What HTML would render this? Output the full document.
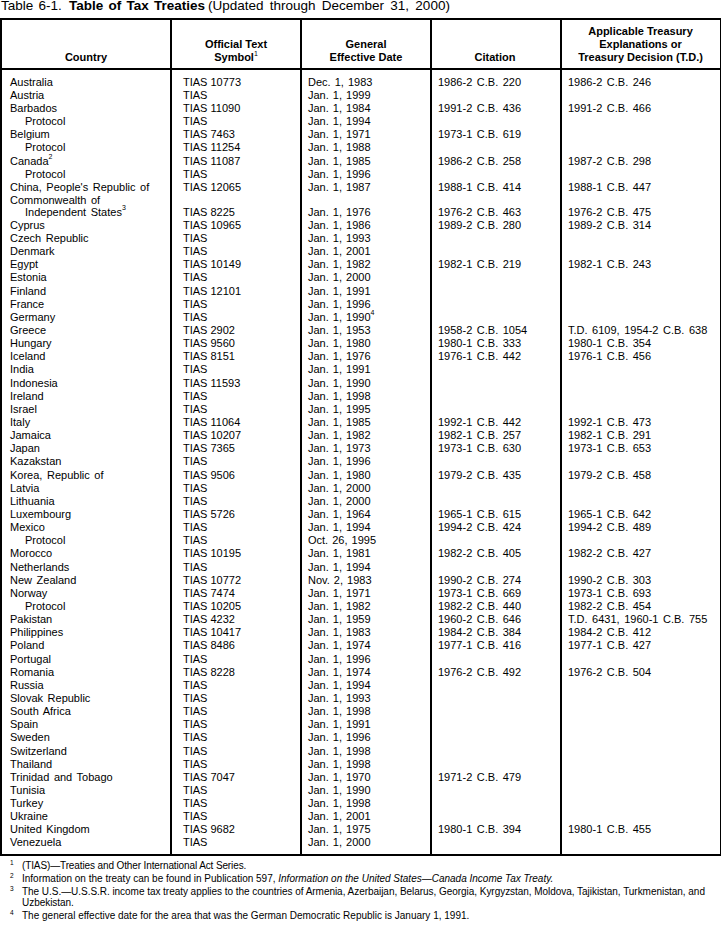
<!DOCTYPE html>
<html><head><meta charset="utf-8">
<style>
html,body{margin:0;padding:0;background:#fff;}
body{width:721px;height:939px;position:relative;overflow:hidden;font-family:"Liberation Sans",sans-serif;color:#000;}
.t{position:absolute;font-size:11px;line-height:13px;white-space:nowrap;word-spacing:1.5px;}
.t sup{font-size:7px;vertical-align:0;position:relative;top:-6px;margin-left:0px;word-spacing:0}
.h{position:absolute;font-size:11px;line-height:13px;font-weight:bold;text-align:center;white-space:nowrap;}
.ln{position:absolute;background:#000;}
.c2{word-spacing:0}
.c3{word-spacing:1px}
.title{position:absolute;top:-1px;font-size:13.5px;line-height:14px;white-space:nowrap;word-spacing:1.5px}
.fn{position:absolute;font-size:10px;line-height:11px;white-space:nowrap;}
.fn sup{font-size:6px;}
.fs{position:absolute;font-size:6.5px;line-height:8px;}
</style></head><body>
<div class="title" style="left:1px">Table 6-1.</div><div class="title" style="left:69px;font-weight:bold">Table of Tax Treaties</div><div class="title" style="left:208px;word-spacing:2.5px">(Updated through December 31, 2000)</div>
<!-- borders -->
<div class="ln" style="left:0;top:18px;width:721px;height:2px"></div>
<div class="ln" style="left:0;top:68px;width:721px;height:2px"></div>
<div class="ln" style="left:0;top:854px;width:721px;height:2px"></div>
<div class="ln" style="left:0;top:18px;width:2px;height:838px"></div>
<div class="ln" style="left:170px;top:18px;width:2px;height:838px"></div>
<div class="ln" style="left:300px;top:18px;width:2px;height:838px"></div>
<div class="ln" style="left:430px;top:18px;width:2px;height:838px"></div>
<div class="ln" style="left:560px;top:18px;width:2px;height:838px"></div>
<div class="ln" style="left:720px;top:18px;width:2px;height:838px"></div>
<!-- header -->
<div class="h" style="left:2px;width:168px;top:51px">Country</div>
<div class="h" style="left:172px;width:128px;top:38px">Official Text<br>Symbol<sup style="font-size:7px;vertical-align:0;position:relative;top:-5px;font-weight:normal">1</sup></div>
<div class="h" style="left:302px;width:128px;top:38px">General<br>Effective Date</div>
<div class="h" style="left:431px;width:128px;top:51px">Citation</div>
<div class="h" style="left:562px;width:157px;top:25px">Applicable Treasury<br>Explanations or<br>Treasury Decision (T.D.)</div>
<div class="t" style="top:76px;left:10px">Australia</div>
<div class="t c2" style="top:76px;left:183px">TIAS 10773</div>
<div class="t c3" style="top:76px;left:308px">Dec. 1, 1983</div>
<div class="t c4" style="top:76px;left:438px">1986-2 C.B. 220</div>
<div class="t c5" style="top:76px;left:568px">1986-2 C.B. 246</div>
<div class="t" style="top:89px;left:10px">Austria</div>
<div class="t c2" style="top:89px;left:183px">TIAS</div>
<div class="t c3" style="top:89px;left:308px">Jan. 1, 1999</div>
<div class="t" style="top:102px;left:10px">Barbados</div>
<div class="t c2" style="top:102px;left:183px">TIAS 11090</div>
<div class="t c3" style="top:102px;left:308px">Jan. 1, 1984</div>
<div class="t c4" style="top:102px;left:438px">1991-2 C.B. 436</div>
<div class="t c5" style="top:102px;left:568px">1991-2 C.B. 466</div>
<div class="t" style="top:115px;left:25px">Protocol</div>
<div class="t c2" style="top:115px;left:183px">TIAS</div>
<div class="t c3" style="top:115px;left:308px">Jan. 1, 1994</div>
<div class="t" style="top:128px;left:10px">Belgium</div>
<div class="t c2" style="top:128px;left:183px">TIAS 7463</div>
<div class="t c3" style="top:128px;left:308px">Jan. 1, 1971</div>
<div class="t c4" style="top:128px;left:438px">1973-1 C.B. 619</div>
<div class="t" style="top:141px;left:25px">Protocol</div>
<div class="t c2" style="top:141px;left:183px">TIAS 11254</div>
<div class="t c3" style="top:141px;left:308px">Jan. 1, 1988</div>
<div class="t" style="top:155px;left:10px">Canada<sup>2</sup></div>
<div class="t c2" style="top:155px;left:183px">TIAS 11087</div>
<div class="t c3" style="top:155px;left:308px">Jan. 1, 1985</div>
<div class="t c4" style="top:155px;left:438px">1986-2 C.B. 258</div>
<div class="t c5" style="top:155px;left:568px">1987-2 C.B. 298</div>
<div class="t" style="top:168px;left:25px">Protocol</div>
<div class="t c2" style="top:168px;left:183px">TIAS</div>
<div class="t c3" style="top:168px;left:308px">Jan. 1, 1996</div>
<div class="t" style="top:181px;left:10px">China, People's Republic of</div>
<div class="t c2" style="top:181px;left:183px">TIAS 12065</div>
<div class="t c3" style="top:181px;left:308px">Jan. 1, 1987</div>
<div class="t c4" style="top:181px;left:438px">1988-1 C.B. 414</div>
<div class="t c5" style="top:181px;left:568px">1988-1 C.B. 447</div>
<div class="t" style="top:194px;left:10px">Commonwealth of</div>
<div class="t" style="top:206px;left:25px">Independent States<sup>3</sup></div>
<div class="t c2" style="top:206px;left:183px">TIAS 8225</div>
<div class="t c3" style="top:206px;left:308px">Jan. 1, 1976</div>
<div class="t c4" style="top:206px;left:438px">1976-2 C.B. 463</div>
<div class="t c5" style="top:206px;left:568px">1976-2 C.B. 475</div>
<div class="t" style="top:219px;left:10px">Cyprus</div>
<div class="t c2" style="top:219px;left:183px">TIAS 10965</div>
<div class="t c3" style="top:219px;left:308px">Jan. 1, 1986</div>
<div class="t c4" style="top:219px;left:438px">1989-2 C.B. 280</div>
<div class="t c5" style="top:219px;left:568px">1989-2 C.B. 314</div>
<div class="t" style="top:232px;left:10px">Czech Republic</div>
<div class="t c2" style="top:232px;left:183px">TIAS</div>
<div class="t c3" style="top:232px;left:308px">Jan. 1, 1993</div>
<div class="t" style="top:245px;left:10px">Denmark</div>
<div class="t c2" style="top:245px;left:183px">TIAS</div>
<div class="t c3" style="top:245px;left:308px">Jan. 1, 2001</div>
<div class="t" style="top:258px;left:10px">Egypt</div>
<div class="t c2" style="top:258px;left:183px">TIAS 10149</div>
<div class="t c3" style="top:258px;left:308px">Jan. 1, 1982</div>
<div class="t c4" style="top:258px;left:438px">1982-1 C.B. 219</div>
<div class="t c5" style="top:258px;left:568px">1982-1 C.B. 243</div>
<div class="t" style="top:271px;left:10px">Estonia</div>
<div class="t c2" style="top:271px;left:183px">TIAS</div>
<div class="t c3" style="top:271px;left:308px">Jan. 1, 2000</div>
<div class="t" style="top:285px;left:10px">Finland</div>
<div class="t c2" style="top:285px;left:183px">TIAS 12101</div>
<div class="t c3" style="top:285px;left:308px">Jan. 1, 1991</div>
<div class="t" style="top:298px;left:10px">France</div>
<div class="t c2" style="top:298px;left:183px">TIAS</div>
<div class="t c3" style="top:298px;left:308px">Jan. 1, 1996</div>
<div class="t" style="top:311px;left:10px">Germany</div>
<div class="t c2" style="top:311px;left:183px">TIAS</div>
<div class="t c3" style="top:311px;left:308px">Jan. 1, 1990<sup>4</sup></div>
<div class="t" style="top:324px;left:10px">Greece</div>
<div class="t c2" style="top:324px;left:183px">TIAS 2902</div>
<div class="t c3" style="top:324px;left:308px">Jan. 1, 1953</div>
<div class="t c4" style="top:324px;left:438px">1958-2 C.B. 1054</div>
<div class="t c5" style="top:324px;left:568px">T.D. 6109, 1954-2 C.B. 638</div>
<div class="t" style="top:337px;left:10px">Hungary</div>
<div class="t c2" style="top:337px;left:183px">TIAS 9560</div>
<div class="t c3" style="top:337px;left:308px">Jan. 1, 1980</div>
<div class="t c4" style="top:337px;left:438px">1980-1 C.B. 333</div>
<div class="t c5" style="top:337px;left:568px">1980-1 C.B. 354</div>
<div class="t" style="top:350px;left:10px">Iceland</div>
<div class="t c2" style="top:350px;left:183px">TIAS 8151</div>
<div class="t c3" style="top:350px;left:308px">Jan. 1, 1976</div>
<div class="t c4" style="top:350px;left:438px">1976-1 C.B. 442</div>
<div class="t c5" style="top:350px;left:568px">1976-1 C.B. 456</div>
<div class="t" style="top:363px;left:10px">India</div>
<div class="t c2" style="top:363px;left:183px">TIAS</div>
<div class="t c3" style="top:363px;left:308px">Jan. 1, 1991</div>
<div class="t" style="top:377px;left:10px">Indonesia</div>
<div class="t c2" style="top:377px;left:183px">TIAS 11593</div>
<div class="t c3" style="top:377px;left:308px">Jan. 1, 1990</div>
<div class="t" style="top:390px;left:10px">Ireland</div>
<div class="t c2" style="top:390px;left:183px">TIAS</div>
<div class="t c3" style="top:390px;left:308px">Jan. 1, 1998</div>
<div class="t" style="top:403px;left:10px">Israel</div>
<div class="t c2" style="top:403px;left:183px">TIAS</div>
<div class="t c3" style="top:403px;left:308px">Jan. 1, 1995</div>
<div class="t" style="top:416px;left:10px">Italy</div>
<div class="t c2" style="top:416px;left:183px">TIAS 11064</div>
<div class="t c3" style="top:416px;left:308px">Jan. 1, 1985</div>
<div class="t c4" style="top:416px;left:438px">1992-1 C.B. 442</div>
<div class="t c5" style="top:416px;left:568px">1992-1 C.B. 473</div>
<div class="t" style="top:429px;left:10px">Jamaica</div>
<div class="t c2" style="top:429px;left:183px">TIAS 10207</div>
<div class="t c3" style="top:429px;left:308px">Jan. 1, 1982</div>
<div class="t c4" style="top:429px;left:438px">1982-1 C.B. 257</div>
<div class="t c5" style="top:429px;left:568px">1982-1 C.B. 291</div>
<div class="t" style="top:442px;left:10px">Japan</div>
<div class="t c2" style="top:442px;left:183px">TIAS 7365</div>
<div class="t c3" style="top:442px;left:308px">Jan. 1, 1973</div>
<div class="t c4" style="top:442px;left:438px">1973-1 C.B. 630</div>
<div class="t c5" style="top:442px;left:568px">1973-1 C.B. 653</div>
<div class="t" style="top:455px;left:10px">Kazakstan</div>
<div class="t c2" style="top:455px;left:183px">TIAS</div>
<div class="t c3" style="top:455px;left:308px">Jan. 1, 1996</div>
<div class="t" style="top:469px;left:10px">Korea, Republic of</div>
<div class="t c2" style="top:469px;left:183px">TIAS 9506</div>
<div class="t c3" style="top:469px;left:308px">Jan. 1, 1980</div>
<div class="t c4" style="top:469px;left:438px">1979-2 C.B. 435</div>
<div class="t c5" style="top:469px;left:568px">1979-2 C.B. 458</div>
<div class="t" style="top:482px;left:10px">Latvia</div>
<div class="t c2" style="top:482px;left:183px">TIAS</div>
<div class="t c3" style="top:482px;left:308px">Jan. 1, 2000</div>
<div class="t" style="top:495px;left:10px">Lithuania</div>
<div class="t c2" style="top:495px;left:183px">TIAS</div>
<div class="t c3" style="top:495px;left:308px">Jan. 1, 2000</div>
<div class="t" style="top:508px;left:10px">Luxembourg</div>
<div class="t c2" style="top:508px;left:183px">TIAS 5726</div>
<div class="t c3" style="top:508px;left:308px">Jan. 1, 1964</div>
<div class="t c4" style="top:508px;left:438px">1965-1 C.B. 615</div>
<div class="t c5" style="top:508px;left:568px">1965-1 C.B. 642</div>
<div class="t" style="top:521px;left:10px">Mexico</div>
<div class="t c2" style="top:521px;left:183px">TIAS</div>
<div class="t c3" style="top:521px;left:308px">Jan. 1, 1994</div>
<div class="t c4" style="top:521px;left:438px">1994-2 C.B. 424</div>
<div class="t c5" style="top:521px;left:568px">1994-2 C.B. 489</div>
<div class="t" style="top:534px;left:25px">Protocol</div>
<div class="t c2" style="top:534px;left:183px">TIAS</div>
<div class="t c3" style="top:534px;left:308px">Oct. 26, 1995</div>
<div class="t" style="top:547px;left:10px">Morocco</div>
<div class="t c2" style="top:547px;left:183px">TIAS 10195</div>
<div class="t c3" style="top:547px;left:308px">Jan. 1, 1981</div>
<div class="t c4" style="top:547px;left:438px">1982-2 C.B. 405</div>
<div class="t c5" style="top:547px;left:568px">1982-2 C.B. 427</div>
<div class="t" style="top:561px;left:10px">Netherlands</div>
<div class="t c2" style="top:561px;left:183px">TIAS</div>
<div class="t c3" style="top:561px;left:308px">Jan. 1, 1994</div>
<div class="t" style="top:574px;left:10px">New Zealand</div>
<div class="t c2" style="top:574px;left:183px">TIAS 10772</div>
<div class="t c3" style="top:574px;left:308px">Nov. 2, 1983</div>
<div class="t c4" style="top:574px;left:438px">1990-2 C.B. 274</div>
<div class="t c5" style="top:574px;left:568px">1990-2 C.B. 303</div>
<div class="t" style="top:587px;left:10px">Norway</div>
<div class="t c2" style="top:587px;left:183px">TIAS 7474</div>
<div class="t c3" style="top:587px;left:308px">Jan. 1, 1971</div>
<div class="t c4" style="top:587px;left:438px">1973-1 C.B. 669</div>
<div class="t c5" style="top:587px;left:568px">1973-1 C.B. 693</div>
<div class="t" style="top:600px;left:25px">Protocol</div>
<div class="t c2" style="top:600px;left:183px">TIAS 10205</div>
<div class="t c3" style="top:600px;left:308px">Jan. 1, 1982</div>
<div class="t c4" style="top:600px;left:438px">1982-2 C.B. 440</div>
<div class="t c5" style="top:600px;left:568px">1982-2 C.B. 454</div>
<div class="t" style="top:613px;left:10px">Pakistan</div>
<div class="t c2" style="top:613px;left:183px">TIAS 4232</div>
<div class="t c3" style="top:613px;left:308px">Jan. 1, 1959</div>
<div class="t c4" style="top:613px;left:438px">1960-2 C.B. 646</div>
<div class="t c5" style="top:613px;left:568px">T.D. 6431, 1960-1 C.B. 755</div>
<div class="t" style="top:626px;left:10px">Philippines</div>
<div class="t c2" style="top:626px;left:183px">TIAS 10417</div>
<div class="t c3" style="top:626px;left:308px">Jan. 1, 1983</div>
<div class="t c4" style="top:626px;left:438px">1984-2 C.B. 384</div>
<div class="t c5" style="top:626px;left:568px">1984-2 C.B. 412</div>
<div class="t" style="top:639px;left:10px">Poland</div>
<div class="t c2" style="top:639px;left:183px">TIAS 8486</div>
<div class="t c3" style="top:639px;left:308px">Jan. 1, 1974</div>
<div class="t c4" style="top:639px;left:438px">1977-1 C.B. 416</div>
<div class="t c5" style="top:639px;left:568px">1977-1 C.B. 427</div>
<div class="t" style="top:653px;left:10px">Portugal</div>
<div class="t c2" style="top:653px;left:183px">TIAS</div>
<div class="t c3" style="top:653px;left:308px">Jan. 1, 1996</div>
<div class="t" style="top:666px;left:10px">Romania</div>
<div class="t c2" style="top:666px;left:183px">TIAS 8228</div>
<div class="t c3" style="top:666px;left:308px">Jan. 1, 1974</div>
<div class="t c4" style="top:666px;left:438px">1976-2 C.B. 492</div>
<div class="t c5" style="top:666px;left:568px">1976-2 C.B. 504</div>
<div class="t" style="top:679px;left:10px">Russia</div>
<div class="t c2" style="top:679px;left:183px">TIAS</div>
<div class="t c3" style="top:679px;left:308px">Jan. 1, 1994</div>
<div class="t" style="top:692px;left:10px">Slovak Republic</div>
<div class="t c2" style="top:692px;left:183px">TIAS</div>
<div class="t c3" style="top:692px;left:308px">Jan. 1, 1993</div>
<div class="t" style="top:705px;left:10px">South Africa</div>
<div class="t c2" style="top:705px;left:183px">TIAS</div>
<div class="t c3" style="top:705px;left:308px">Jan. 1, 1998</div>
<div class="t" style="top:718px;left:10px">Spain</div>
<div class="t c2" style="top:718px;left:183px">TIAS</div>
<div class="t c3" style="top:718px;left:308px">Jan. 1, 1991</div>
<div class="t" style="top:731px;left:10px">Sweden</div>
<div class="t c2" style="top:731px;left:183px">TIAS</div>
<div class="t c3" style="top:731px;left:308px">Jan. 1, 1996</div>
<div class="t" style="top:745px;left:10px">Switzerland</div>
<div class="t c2" style="top:745px;left:183px">TIAS</div>
<div class="t c3" style="top:745px;left:308px">Jan. 1, 1998</div>
<div class="t" style="top:758px;left:10px">Thailand</div>
<div class="t c2" style="top:758px;left:183px">TIAS</div>
<div class="t c3" style="top:758px;left:308px">Jan. 1, 1998</div>
<div class="t" style="top:771px;left:10px">Trinidad and Tobago</div>
<div class="t c2" style="top:771px;left:183px">TIAS 7047</div>
<div class="t c3" style="top:771px;left:308px">Jan. 1, 1970</div>
<div class="t c4" style="top:771px;left:438px">1971-2 C.B. 479</div>
<div class="t" style="top:784px;left:10px">Tunisia</div>
<div class="t c2" style="top:784px;left:183px">TIAS</div>
<div class="t c3" style="top:784px;left:308px">Jan. 1, 1990</div>
<div class="t" style="top:797px;left:10px">Turkey</div>
<div class="t c2" style="top:797px;left:183px">TIAS</div>
<div class="t c3" style="top:797px;left:308px">Jan. 1, 1998</div>
<div class="t" style="top:810px;left:10px">Ukraine</div>
<div class="t c2" style="top:810px;left:183px">TIAS</div>
<div class="t c3" style="top:810px;left:308px">Jan. 1, 2001</div>
<div class="t" style="top:823px;left:10px">United Kingdom</div>
<div class="t c2" style="top:823px;left:183px">TIAS 9682</div>
<div class="t c3" style="top:823px;left:308px">Jan. 1, 1975</div>
<div class="t c4" style="top:823px;left:438px">1980-1 C.B. 394</div>
<div class="t c5" style="top:823px;left:568px">1980-1 C.B. 455</div>
<div class="t" style="top:836px;left:10px">Venezuela</div>
<div class="t c2" style="top:836px;left:183px">TIAS</div>
<div class="t c3" style="top:836px;left:308px">Jan. 1, 2000</div>
<!-- footnotes -->
<div class="fs" style="left:10px;top:859px">1</div>
<div class="fn" style="left:22px;top:860px;letter-spacing:-0.12px">(TIAS)—Treaties and Other International Act Series.</div>
<div class="fs" style="left:10px;top:872px">2</div>
<div class="fn" style="left:22px;top:873px">Information on the treaty can be found in Publication 597, <i>Information on the United States—Canada Income Tax Treaty.</i></div>
<div class="fs" style="left:10px;top:885px">3</div>
<div class="fn" style="left:22px;top:886px;letter-spacing:-0.04px">The U.S.—U.S.S.R. income tax treaty applies to the countries of Armenia, Azerbaijan, Belarus, Georgia, Kyrgyzstan, Moldova, Tajikistan, Turkmenistan, and<br>Uzbekistan.</div>
<div class="fs" style="left:10px;top:909px">4</div>
<div class="fn" style="left:22px;top:910px">The general effective date for the area that was the German Democratic Republic is January 1, 1991.</div>
</body></html>
